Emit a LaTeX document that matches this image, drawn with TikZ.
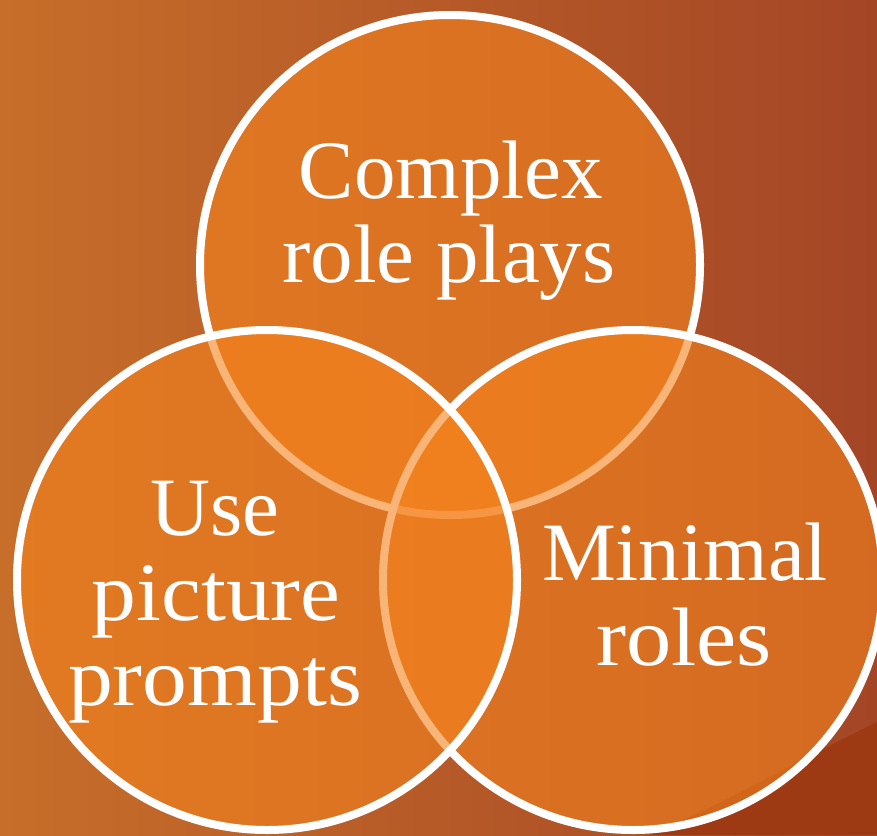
\documentclass[tikz,border=0pt]{standalone}
\usepackage{fontspec}
\usepackage{graphicx}
\setmainfont{Liberation Serif}
\definecolor{bgL}{RGB}{199,110,42}
\definecolor{bgR}{RGB}{164,70,38}
\definecolor{swooshc}{RGB}{157,58,20}
\definecolor{vennfill}{RGB}{245,131,30}
\newcommand{\wider}[2]{\scalebox{#1}[1]{#2}}
\begin{document}
\begin{tikzpicture}[x=1pt,y=-1pt,
  venn/.style={circle, minimum size=500pt, inner sep=0pt, fill=vennfill, fill opacity=0.6, draw=white, line width=8pt},
  lbl/.style={text=white, font=\fontsize{83}{84}\selectfont, anchor=base, inner sep=0pt}]
\useasboundingbox (0,0) rectangle (877,835);
\clip (0,0) rectangle (877,835);
\shade[left color=bgL, right color=bgR] (0,0) rectangle (877,835);
\fill[swooshc] (877,722) .. controls (800,760) and (720,805) .. (650,835) -- (877,835) -- cycle;
\node[venn] (ctop) at (450,265) {};
\node[venn] (cright) at (633,580) {};
\node[venn] (cleft) at (267,580) {};
\node[lbl] (t1) at (451,198) {Complex};
\node[lbl] (t2) at (449,282) {\wider{1.025}{role plays}};
\node[lbl] (l1) at (215,535) {Use};
\node[lbl] (l2) at (216,620) {\wider{1.08}{picture}};
\node[lbl] (l3) at (215,705) {\wider{1.08}{prompts}};
\node[lbl] (r1) at (685,580) {Minimal};
\node[lbl] (r2) at (684,665) {\wider{1.09}{roles}};
\end{tikzpicture}
\end{document}
